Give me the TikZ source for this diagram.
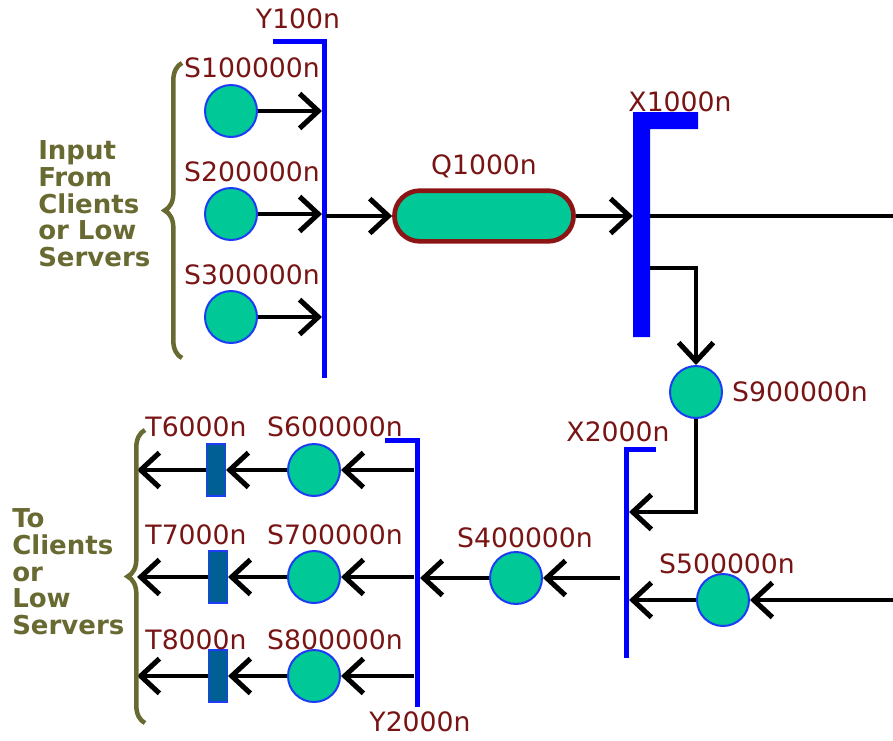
\documentclass[tikz,border=0pt]{standalone}
\usepackage{fontspec}
\setmainfont{DejaVu Sans}
\usetikzlibrary{arrows.meta,shapes.misc,decorations.pathreplacing}
\definecolor{srvgreen}{RGB}{0,200,150}
\definecolor{srvedge}{RGB}{30,60,245}
\definecolor{labred}{RGB}{120,20,20}
\definecolor{qedge}{RGB}{140,20,20}
\definecolor{grpolive}{RGB}{105,105,50}
\definecolor{tbox}{RGB}{0,96,150}
\tikzset{
  srv/.style={circle,fill=srvgreen,draw=srvedge,line width=1.5pt,minimum size=39pt,inner sep=0pt},
  tb/.style={rectangle,fill=tbox,draw=srvedge,line width=1pt,minimum width=14pt,minimum height=39pt,inner sep=0pt},
  lab/.style={text=labred,font=\fontsize{20pt}{22pt}\selectfont,inner sep=0pt},
  arr/.style={line width=3pt,-{Straight Barb[length=14pt,width=26pt,line width=3.8pt]}},
  wire/.style={line width=3pt},
  bar/.style={draw=blue,line width=3.75pt},
  grp/.style={draw=grpolive,line width=3.4pt,decorate,decoration={brace,amplitude=13pt}},
  grptext/.style={text=grpolive,font=\bfseries\fontsize{19.5pt}{20pt}\selectfont,align=left,inner sep=0pt,anchor=west}
}
\begin{document}
\begin{tikzpicture}[x=0.75pt,y=-0.75pt]
  \useasboundingbox (0,0) rectangle (893,740);
  % bars
  \draw[bar] (273,41) -- (324,41) -- (324,378);
  \fill[blue] (633,112) rectangle (650,337) (650,112) rectangle (698,129);
  \draw[bar] (656,449) -- (626,449) -- (626,658);
  \draw[bar] (385,440) -- (417,440) -- (417,707);
  \coordinate (y1in) at (322,0);
  \coordinate (y1out) at (326,0);
  \coordinate (x1in) at (633,0);
  \coordinate (x1out) at (650,0);
  \coordinate (x1tap) at (650,268);
  \coordinate (x2in) at (629,0);
  \coordinate (x2out) at (620,0);
  \coordinate (x2tap) at (629,512);
  \coordinate (y2in) at (420,0);
  \coordinate (y2out) at (414,0);
  \coordinate (west) at (137,0);
  \coordinate (east) at (893,0);
  \node[lab] (ly1) at (298,19) {Y100n};
  \node[lab] (lx1) at (680,102) {X1000n};
  \node[lab] (lx2) at (618,432) {X2000n};
  \node[lab] (ly2) at (420,722) {Y2000n};
  % input side
  \foreach \n/\y/\ly in {1/111/68,2/214/172,3/317/275}{
    \node[srv] (s\n) at (231,\y) {};
    \node[lab] (ls\n) at (252,\ly) {S\n00000n};
    \draw[arr] (s\n.east) -- (s\n -| y1in);
  }
  \node[rounded rectangle,fill=srvgreen,draw=qedge,line width=3.5pt,
        minimum width=141pt,minimum height=38pt] (q) at (484,216) {};
  \node[lab] (lq) at (484,166) {Q1000n};
  \draw[arr] (q -| y1out) -- (q.west);
  \draw[arr] (q.east) -- (q -| x1in);
  \draw[wire] (q -| x1out) -- (q -| east);
  \node[srv] (s9) at (696,392) {};
  \node[lab] (ls9) at (800,392) {S900000n};
  \draw[arr] (x1tap) -| (s9.north);
  \draw[arr] (s9.south) |- (x2tap);
  % output side
  \node[srv] (s5) at (723,600) {};
  \node[lab] (ls5) at (727,564) {S500000n};
  \draw[arr] (s5 -| east) -- (s5.east);
  \draw[arr] (s5.west) -- (s5 -| x2in);
  \node[srv] (s4) at (516,578) {};
  \node[lab] (ls4) at (525,538) {S400000n};
  \draw[arr] (s4 -| x2out) -- (s4.east);
  \draw[arr] (s4.west) -- (s4 -| y2in);
  \foreach \n/\y/\ly/\tx in {6/470/427/216,7/577/535/218,8/676/640/218}{
    \node[srv] (s\n) at (314,\y) {};
    \node[tb] (t\n) at (\tx,\y) {};
    \node[lab] (ls\n) at (335,\ly) {S\n00000n};
    \node[lab] (lt\n) at (196,\ly) {T\n000n};
    \draw[arr] (s\n -| y2out) -- (s\n.east);
    \draw[arr] (s\n.west) -- (t\n.east);
    \draw[arr] (t\n.west) -- (t\n -| west);
  }
  % groups
  \draw[grp] (182,358) -- (182,63);
  \node[grptext] (intxt) at (38,204) {Input\\From\\Clients\\or Low\\Servers};
  \draw[grp] (145,723) -- (145,430);
  \node[grptext] (outtxt) at (12,572) {To\\Clients\\or\\Low\\Servers};
\end{tikzpicture}
\end{document}
